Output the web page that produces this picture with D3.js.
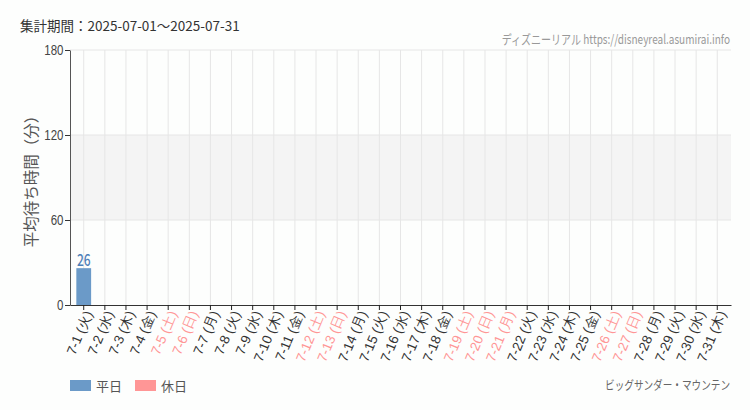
<!DOCTYPE html>
<html>
<head>
<meta charset="utf-8">
<script src="https://cdn.jsdelivr.net/npm/d3@7"></script>
<style>
  body { margin: 0; background: #fdfefd; }
  svg { display: block; font-family: "Noto Sans CJK JP", "Noto Sans", sans-serif; }
</style>
</head>
<body>
<div id="container"></div>
<script>
// data
const days = d3.range(1, 32).map(d => "7-" + d)
const weekdays = ["火","水","木","金","土","日","月","火","水","木","金","土","日","月","火","水","木","金","土","日","月","火","水","木","金","土","日","月","火","水","木"]
const holidays = ["7-5","7-6","7-12","7-13","7-19","7-20","7-21","7-26","7-27"]
const waits = [26, null, null, null, null, null, null, null, null, null, null, null, null, null, null, null,
    null, null, null, null, null, null, null, null, null, null, null, null, null, null, null]
const yTicks = [0, 60, 120, 180]

const width = 750, height = 410
const margin = { top: 50, right: 19, bottom: 105, left: 70 }
const innerW = width - margin.left - margin.right
const innerH = height - margin.top - margin.bottom

const weekdayColor = "#6b9ac8"
const holidayColor = "#ff9696"

const svg = d3.select("#container").append("svg")
    .attr("width", width)
    .attr("height", height)

const g = svg.append("g")
    .attr("transform", "translate(" + margin.left + "," + margin.top + ")")

const x = d3.scaleBand().domain(days).range([0, innerW]).padding(0.3)
const y = d3.scaleLinear().domain([0, 180]).range([innerH, 0])

// shaded band 60-120
g.append("rect")
    .attr("x", 0)
    .attr("y", y(120))
    .attr("width", innerW)
    .attr("height", y(60) - y(120))
    .attr("fill", "#f4f4f4")

// horizontal grid
g.selectAll(".hgrid").data(yTicks.slice(1)).enter().append("line")
    .attr("x1", 0).attr("x2", innerW)
    .attr("y1", d => y(d)).attr("y2", d => y(d))
    .attr("stroke", "#e6e6e6")

// vertical grid
g.selectAll(".vgrid").data(days).enter().append("line")
    .attr("x1", d => x(d) + x.bandwidth() / 2).attr("x2", d => x(d) + x.bandwidth() / 2)
    .attr("y1", 0).attr("y2", innerH)
    .attr("stroke", "#e6e6e6")

// bars
const rows = days.map((d, i) => ({ day: d, v: waits[i] })).filter(r => r.v != null)
g.selectAll(".bar").data(rows).enter().append("rect")
    .attr("x", d => x(d.day))
    .attr("y", d => y(d.v))
    .attr("width", x.bandwidth())
    .attr("height", d => innerH - y(d.v))
    .attr("fill", d => holidays.includes(d.day) ? holidayColor : weekdayColor)

// value labels, squeezed to look condensed
g.selectAll(".val").data(rows).enter().append("text")
    .attr("transform", d => "translate(" + (x(d.day) + x.bandwidth() / 2) + "," + (y(d.v) - 2) + ")scale(0.75,1)")
    .attr("text-anchor", "middle")
    .attr("fill", d => holidays.includes(d.day) ? holidayColor : "#4f80b8")
    .style("font-size", "16px")
    .style("font-weight", "500")
    .text(d => d.v)

// y axis
const yAxis = g.append("g")
    .call(d3.axisLeft(y).tickValues(yTicks).tickSize(5).tickSizeOuter(0))
yAxis.select(".domain").attr("stroke", "#555")
yAxis.selectAll(".tick line").attr("stroke", "#333")
yAxis.selectAll("text")
    .attr("fill", "#444")
    .attr("x", -8)
    .attr("transform", "scale(0.82,1)")
    .style("font-size", "14px")
    .style("font-weight", "500")

// x axis
const xAxis = g.append("g")
    .attr("transform", "translate(0," + innerH + ")")
    .call(d3.axisBottom(x).tickSize(5).tickSizeOuter(0).tickFormat((d, i) => d + " (" + weekdays[i] + ")"))
xAxis.select(".domain").attr("stroke", "#333")
xAxis.selectAll(".tick line").attr("stroke", "#222")
xAxis.selectAll("text")
    .attr("text-anchor", "end")
    .attr("x", -4)
    .attr("y", 7)
    .attr("dy", "0.35em")
    .attr("transform", "rotate(-67)")
    .attr("fill", d => holidays.includes(d) ? holidayColor : "#333")
    .style("font-size", "13.5px")

// y title
svg.append("text")
    .attr("transform", "translate(37," + (margin.top + innerH / 2) + ")rotate(-90)")
    .attr("text-anchor", "middle")
    .attr("fill", "#555")
    .style("font-size", "15.5px")
    .text("平均待ち時間（分）")

// header
svg.append("text")
    .attr("x", 20).attr("y", 31)
    .attr("fill", "#333")
    .style("font-size", "13.5px")
    .text("集計期間：2025-07-01～2025-07-31")

svg.append("text")
    .attr("transform", "translate(730,44)scale(0.77,1)")
    .attr("text-anchor", "end")
    .attr("fill", "#999")
    .style("font-size", "13px")
    .text("ディズニーリアル https://disneyreal.asumirai.info")

// legend
const legend = [{ name: "平日", color: weekdayColor }, { name: "休日", color: holidayColor }]
const lg = svg.selectAll(".legend").data(legend).enter().append("g")
    .attr("transform", (d, i) => "translate(" + (70 + i * 65) + ",380)")
lg.append("rect").attr("width", 21).attr("height", 11).attr("fill", d => d.color)
lg.append("text").attr("x", 26).attr("y", 11)
    .attr("fill", "#555")
    .style("font-size", "13px")
    .text(d => d.name)

svg.append("text")
    .attr("transform", "translate(730,390)scale(0.77,1)")
    .attr("text-anchor", "end")
    .attr("fill", "#666")
    .style("font-size", "12.5px")
    .text("ビッグサンダー・マウンテン")
</script>
</body>
</html>
